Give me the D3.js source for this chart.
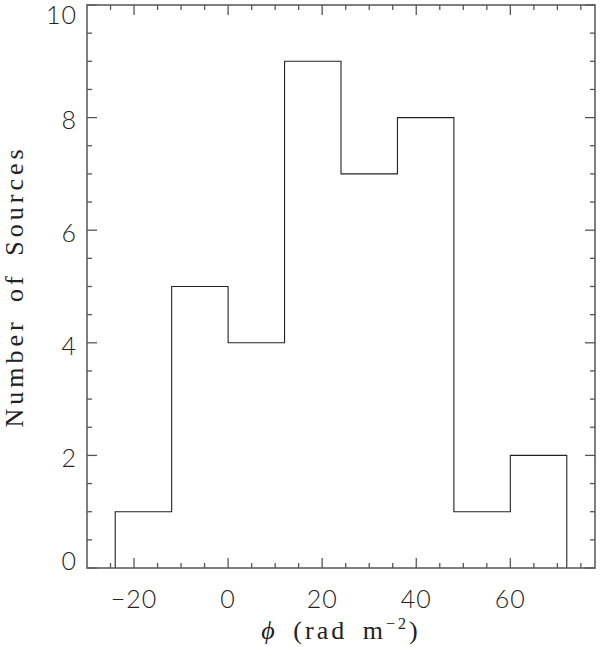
<!DOCTYPE html>
<html><head><meta charset="utf-8">
<script src="https://cdn.jsdelivr.net/npm/d3@7"></script>
<style>body{margin:0;background:#fff}svg{display:block}</style>
</head><body>
<script>
const binEdges = [-24, -12, 0, 12, 24, 36, 48, 60, 72];
const counts = [1, 5, 4, 9, 7, 8, 1, 2];
const xMajorTicks = [-20, 0, 20, 40, 60];
const yMajorTicks = [0, 2, 4, 6, 8, 10];
const xTitle = "(rad m";
const yTitle = "Number of Sources";

const W = 600, H = 647;
const L = 87, R = 595, T = 5, B = 568;
const x = d3.scaleLinear().domain([-30, 78]).range([L, R]);
const y = d3.scaleLinear().domain([0, 10]).range([B, T]);
const svg = d3.select("body").append("svg").attr("width", W).attr("height", H);
const axCol = "#555", lineCol = "#222";
const numFont = "Lato, 'DejaVu Sans', sans-serif";
const serif = "'Liberation Serif', 'DejaVu Serif', serif";

// histogram step line
const pts = [];
pts.push([binEdges[0], 0]);
counts.forEach((c, i) => { pts.push([binEdges[i], c]); pts.push([binEdges[i + 1], c]); });
pts.push([binEdges[binEdges.length - 1], 0]);
svg.append("path")
  .attr("d", d3.line().x(d => x(d[0])).y(d => y(d[1]))(pts))
  .attr("fill", "none").attr("stroke", lineCol).attr("stroke-width", 1.1);

// frame
svg.append("rect").attr("x", L).attr("y", T).attr("width", R - L).attr("height", B - T)
  .attr("fill", "none").attr("stroke", axCol).attr("stroke-width", 1.5);

// ticks
const xMinor = d3.range(-25, 78, 5);
const yMinor = d3.range(0, 10.01, 0.5);
const g = svg.append("g").attr("stroke", axCol).attr("stroke-width", 1.3);
xMinor.forEach(v => {
  const len = (v % 20 === 0) ? 10 : 5;
  g.append("line").attr("x1", x(v)).attr("x2", x(v)).attr("y1", B).attr("y2", B - len);
  g.append("line").attr("x1", x(v)).attr("x2", x(v)).attr("y1", T).attr("y2", T + len);
});
yMinor.forEach(v => {
  const len = (Math.abs(v % 2) < 1e-9) ? 10 : 5;
  g.append("line").attr("y1", y(v)).attr("y2", y(v)).attr("x1", L).attr("x2", L + len);
  g.append("line").attr("y1", y(v)).attr("y2", y(v)).attr("x1", R).attr("x2", R - len);
});

// tick labels
svg.append("g").selectAll("text").data(xMajorTicks).join("text")
  .attr("x", d => x(d)).attr("y", 608)
  .attr("text-anchor", "middle")
  .attr("font-family", numFont).attr("font-weight", 300).attr("font-size", 25).attr("fill", "#222")
  .attr("letter-spacing", 1)
  .text(d => d < 0 ? "\u2212" + Math.abs(d) : d);
svg.append("g").selectAll("text").data(yMajorTicks).join("text")
  .attr("x", 77).attr("y", d => Math.min(Math.max(y(d) + 3, 15), 561))
  .attr("dy", "0.35em")
  .attr("text-anchor", "end")
  .attr("font-family", numFont).attr("font-weight", 300).attr("font-size", 25).attr("fill", "#222")
  .attr("letter-spacing", 1)
  .text(d => d);

// axis titles
const xt = svg.append("text").attr("x", (L + R) / 2).attr("y", 639)
  .attr("text-anchor", "middle").attr("font-family", serif).attr("font-size", 26).attr("fill", "#222")
  .attr("letter-spacing", 3).attr("word-spacing", 6);
xt.append("tspan").attr("font-style", "italic").text("\u03D5");
xt.append("tspan").text("\u00A0" + xTitle);
xt.append("tspan").attr("dy", -10).attr("font-size", 16).text("\u22122");
xt.append("tspan").attr("dy", 10).text(")");

svg.append("text")
  .attr("transform", `translate(23,${(T + B) / 2}) rotate(-90)`)
  .attr("text-anchor", "middle").attr("font-family", serif).attr("font-size", 26).attr("fill", "#222")
  .attr("letter-spacing", 4).attr("word-spacing", 6)
  .text(yTitle);
</script>
</body></html>
